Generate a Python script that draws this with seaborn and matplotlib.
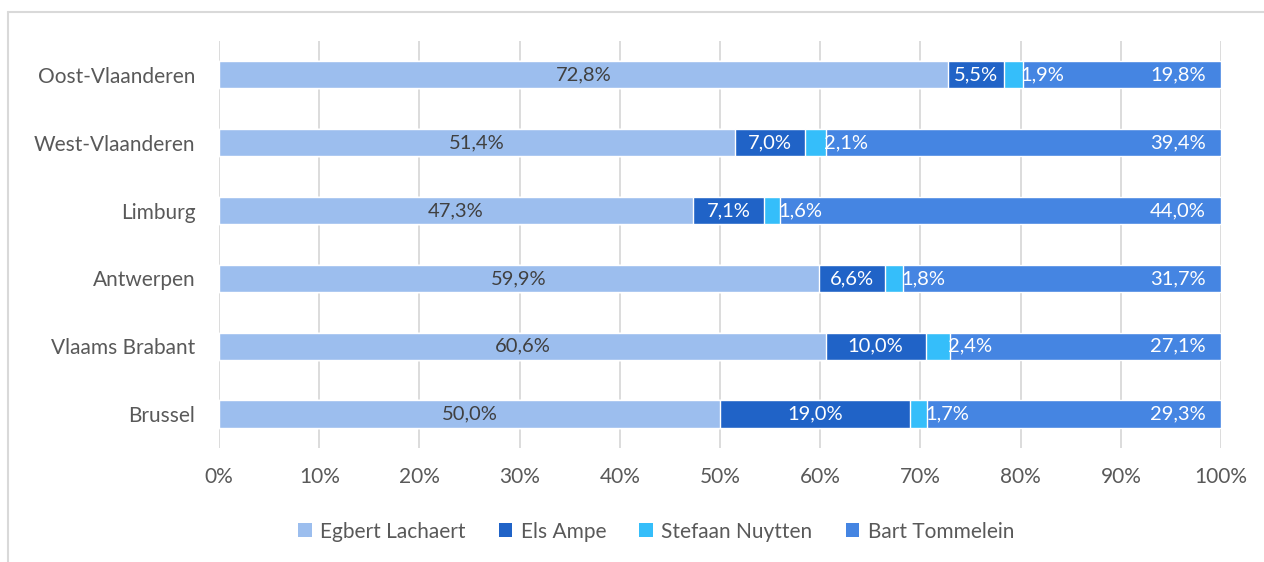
import pandas as pd
import numpy as np
import matplotlib.pyplot as plt
from matplotlib.patches import Patch
from matplotlib.ticker import FuncFormatter
from matplotlib.lines import Line2D
import seaborn as sns

# data (percent of votes per province)
provinces = ["Oost-Vlaanderen", "West-Vlaanderen", "Limburg", "Antwerpen", "Vlaams Brabant", "Brussel"]
candidates = ["Egbert Lachaert", "Els Ampe", "Stefaan Nuytten", "Bart Tommelein"]
egbert = [72.8, 51.4, 47.3, 59.9, 60.6, 50.0]
els = [5.5, 7.0, 7.1, 6.6, 10.0, 19.0]
stefaan = [1.9, 2.1, 1.6, 1.8, 2.4, 1.7]
bart = [19.8, 39.4, 44.0, 31.7, 27.1, 29.3]
colors = ["#9CBEEE", "#2063C7", "#35BEFA", "#4585E2"]

df = pd.DataFrame({"prov": provinces, candidates[0]: egbert, candidates[1]: els,
                   candidates[2]: stefaan, candidates[3]: bart})
vals = df[candidates].to_numpy()
shares = vals / vals.sum(axis=1, keepdims=True) * 100  # 100% stacked
cum = np.cumsum(shares, axis=1)

sns.set_style("white")
plt.rcParams['font.family'] = ['Lato', 'DejaVu Sans']

fig = plt.figure(figsize=(12.64, 5.62), dpi=100)
ax = fig.add_axes([0.1733, 0.203, 0.7927, 0.724])

# draw cumulative bars widest first so they look stacked
for i in range(len(candidates) - 1, -1, -1):
    d = pd.DataFrame({"prov": provinces, "end": cum[:, i]})
    sns.barplot(data=d, x="end", y="prov", order=provinces, color=colors[i],
                width=0.4, saturation=1, ax=ax, zorder=2)

txt_kw = dict(va="center", fontsize=14.5)
for r in range(len(provinces)):
    start = cum[r] - shares[r]
    ax.text(start[0] + shares[r, 0] / 2, r, f"{vals[r,0]:.1f}%".replace(".", ","),
            ha="center", color="#404040", **txt_kw)
    ax.text(start[1] + shares[r, 1] / 2, r, f"{vals[r,1]:.1f}%".replace(".", ","),
            ha="center", color="white", **txt_kw)
    ax.text(cum[r, 2] - 0.2, r, f"{vals[r,2]:.1f}%".replace(".", ","),
            ha="left", color="white", **txt_kw)
    ax.text(98.5, r, f"{vals[r,3]:.1f}%".replace(".", ","),
            ha="right", color="white", **txt_kw)

ax.set_xlim(0, 100)
ax.set_ylim(5.5, -0.5)
ax.set_xticks(range(0, 101, 10))
ax.xaxis.set_major_formatter(FuncFormatter(lambda v, p: f"{v:.0f}%"))
ax.grid(axis="x", color="#D9D9D9", linewidth=1.3, zorder=0)
ax.set_axisbelow(True)
for s in ax.spines.values():
    s.set_visible(False)
ax.tick_params(axis="both", length=0, labelsize=15, colors="#595959")
ax.tick_params(axis="x", pad=14)
ax.tick_params(axis="y", pad=17)
ax.set_xlabel("")
ax.set_ylabel("")

handles = [Patch(facecolor=c, edgecolor="none", label=n) for c, n in zip(colors, candidates)]
fig.legend(handles=handles, loc="center", bbox_to_anchor=(0.519, 0.054), ncol=4, frameon=False,
           fontsize=15, labelcolor="#595959", handlelength=0.65, handleheight=0.65,
           handletextpad=0.4, columnspacing=1.6)

# chart area border (top and left only visible)
fig.add_artist(Line2D([8 / 1264, 1], [1 - 12 / 562] * 2, transform=fig.transFigure, color="#D9D9D9", lw=1.5))
fig.add_artist(Line2D([8 / 1264] * 2, [0, 1 - 12 / 562], transform=fig.transFigure, color="#D9D9D9", lw=1.5))

plt.savefig("out.png", dpi=100)
plt.close()
